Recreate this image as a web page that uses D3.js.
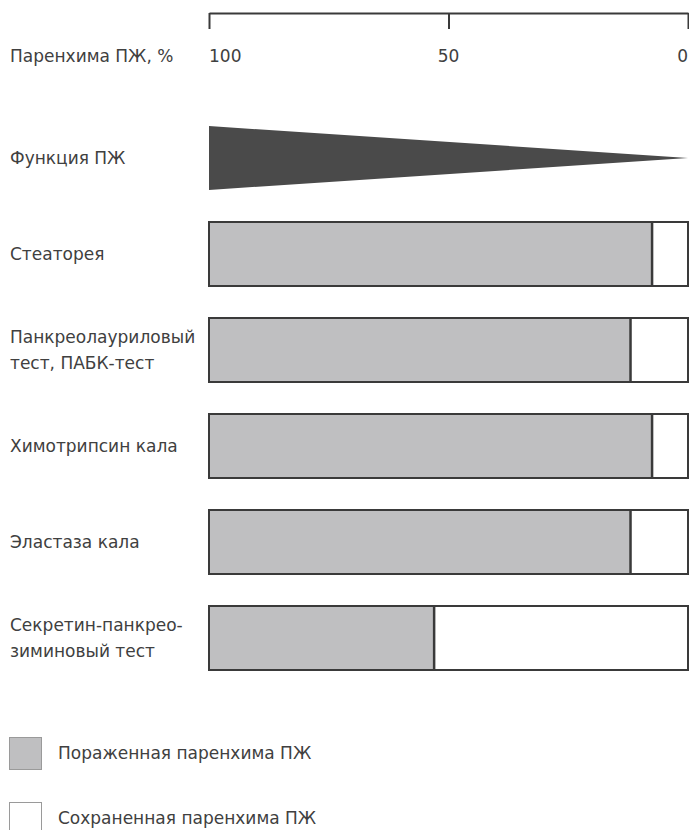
<!DOCTYPE html>
<html><head><meta charset="utf-8">
<script src="https://cdn.jsdelivr.net/npm/d3@7"></script>
<style>
body{margin:0;background:#fff;}
text{font-family:"DejaVu Sans",sans-serif;fill:#404040;}
</style></head>
<body><svg id="c" width="689" height="830"></svg>
<script>
// ---- data ----
const axisTitle = "Паренхима ПЖ, %";
const tickValues = [100, 50, 0];
const functionLabel = ["Функция ПЖ"];
const functionParenchyma = [100, 0];   // parenchyma %
const functionLevel = [100, 0];        // relative function %
const testLabels = [
  ["Стеаторея"],
  ["Панкреолауриловый", "тест, ПАБК-тест"],
  ["Химотрипсин кала"],
  ["Эластаза кала"],
  ["Секретин-панкрео-", "зиминовый тест"]
];
// parenchyma % remaining at which test becomes abnormal (border between affected / preserved)
const preservedAt = [7.5, 12, 7.5, 12, 53];
const legendLabels = ["Пораженная паренхима ПЖ", "Сохраненная паренхима ПЖ"];

// ---- drawing ----
const svg = d3.select("#c");
const ink = "#3a3a3a", grayFill = "#bfbfc1";
const FS = 17;
const x = d3.scaleLinear().domain([100, 0]).range([209, 688]);
const rows = ["func"].concat(testLabels.map((d, i) => "t" + i));
const y = d3.scaleBand().domain(rows).range([126, 670]).paddingInner(1/3).paddingOuter(0);
const bw = y.bandwidth();

// axis
const ax = svg.append("g").attr("transform", "translate(0,13)")
  .call(d3.axisBottom(x).tickValues(tickValues).tickSizeInner(16).tickSizeOuter(0).tickFormat(""));
ax.select(".domain").attr("stroke", ink).attr("stroke-width", 2);
ax.selectAll(".tick line").attr("stroke", ink).attr("stroke-width", 2);
ax.selectAll(".tick text").remove();
svg.selectAll("text.tl").data(tickValues).join("text").attr("class", "tl")
  .attr("x", d => x(d)).attr("y", 62)
  .attr("text-anchor", (d, i) => i === 0 ? "start" : (i === tickValues.length - 1 ? "end" : "middle"))
  .attr("font-size", FS).text(d => d);
svg.append("text").attr("x", 10).attr("y", 62).attr("font-size", FS).text(axisTitle);

// function triangle
const fData = functionParenchyma.map((p, i) => ({p, f: functionLevel[i]}));
const h = d3.scaleLinear().domain([0, 100]).range([0, bw / 2]);
const cy = y("func") + bw / 2;
svg.append("path").datum(fData)
  .attr("d", d3.area().x(d => x(d.p)).y0(d => cy - h(d.f)).y1(d => cy + h(d.f)))
  .attr("fill", "#4a4a4a");

// labels
function label(lines, center) {
  const t = svg.append("text").attr("font-size", FS);
  const lh = 26;
  lines.forEach((l, i) => {
    t.append("tspan").attr("x", 10)
      .attr("y", center + 6 + (i - (lines.length - 1) / 2) * lh).text(l);
  });
}
label(functionLabel, cy);

testLabels.forEach((lab, i) => {
  const r = rows[i + 1];
  const top = y(r);
  label(lab, top + bw / 2);
  const g = svg.append("g");
  g.append("rect").attr("x", x(100)).attr("y", top).attr("width", x(preservedAt[i]) - x(100)).attr("height", bw)
    .attr("fill", grayFill);
  g.append("rect").attr("x", x(100)).attr("y", top).attr("width", x(0) - x(100)).attr("height", bw)
    .attr("fill", "none").attr("stroke", ink).attr("stroke-width", 2);
  g.append("line").attr("x1", x(preservedAt[i])).attr("x2", x(preservedAt[i]))
    .attr("y1", top).attr("y2", top + bw).attr("stroke", ink).attr("stroke-width", 2.5);
});

// legend
const legFills = [grayFill, "#ffffff"];
legendLabels.forEach((l, i) => {
  const ly = 737 + i * 65;
  svg.append("rect").attr("x", 9.5).attr("y", ly + 0.5).attr("width", 32).attr("height", 32)
    .attr("fill", legFills[i]).attr("stroke", "#9a9a9a").attr("stroke-width", 1);
  svg.append("text").attr("x", 58).attr("y", ly + 22).attr("font-size", FS).text(l);
});
</script></body></html>
